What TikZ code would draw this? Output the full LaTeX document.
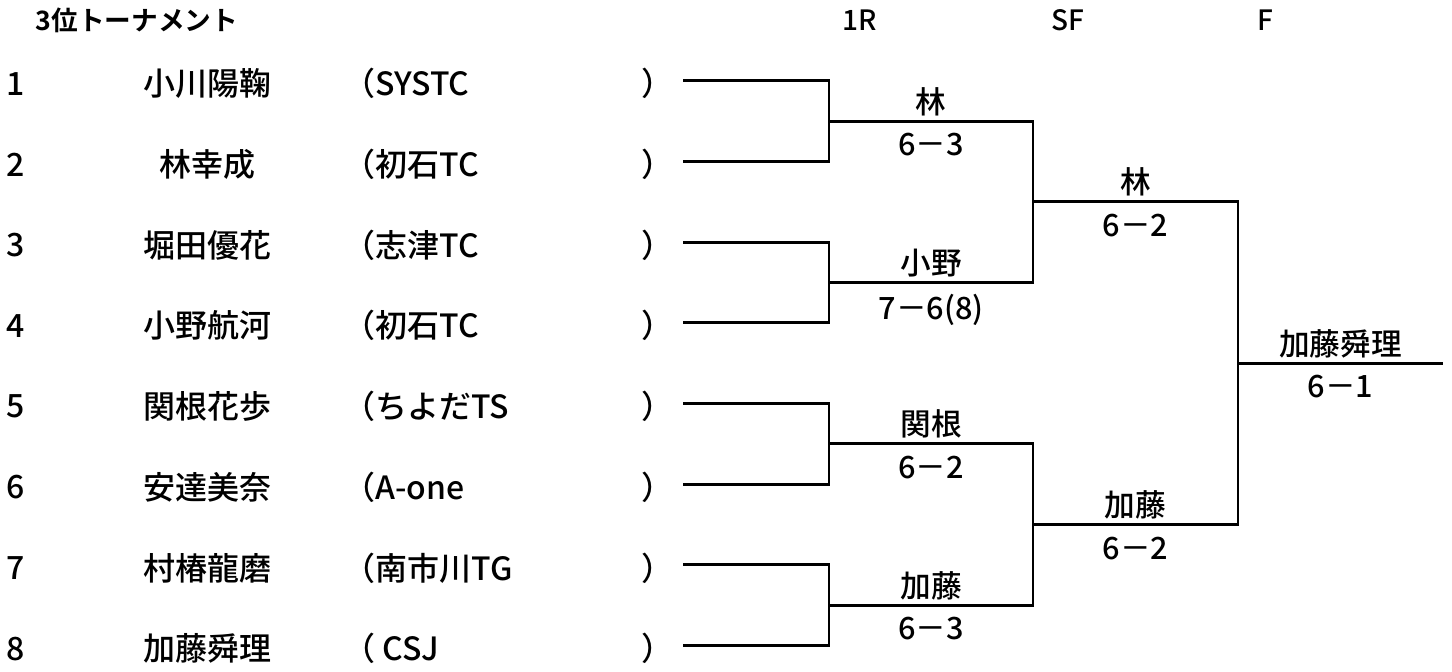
\documentclass[tikz,border=0pt]{standalone}
\usepackage{fontspec}
\setmainfont{Noto Sans CJK JP Medium}[BoldFont={Noto Sans CJK JP Bold}]
\begin{document}
\begin{tikzpicture}[x=0.75pt, y=-0.75pt, line width=2.2pt,
    entry/.style={inner sep=0pt, font=\fontsize{24}{28}\selectfont},
    head/.style={inner sep=0pt, font=\fontsize{21}{25}\selectfont},
    winner/.style={above, inner sep=3pt, font=\fontsize{23}{27}\selectfont},
    score/.style={below=6pt, inner sep=2pt, font=\fontsize{23}{27}\selectfont}]
    \useasboundingbox (0,0) rectangle (1452,671);
    \node[head, font=\fontsize{20}{24}\selectfont\bfseries] (title) at (137,20) {3位トーナメント};
    \node[head] (h1) at (860,20) {1R};
    \node[head] (h2) at (1068,20) {SF};
    \node[head] (h3) at (1265,20) {F};
    \foreach \i/\nm/\club in {1/小川陽鞠/SYSTC, 2/林幸成/初石TC, 3/堀田優花/志津TC, 4/小野航河/初石TC,
        5/関根花歩/ちよだTS, 6/安達美奈/A-one, 7/村椿龍磨/南市川TG, 8/加藤舜理/ CSJ}{
      \node[entry] (n\i) at (16, 80.7*\i+3) {\i};
      \node[entry] (nm\i) at (207, 80.7*\i+3) {\nm};
      \node[entry, anchor=west] (c\i) at (342, 80.7*\i+3) {（\club};
      \node[entry, anchor=west] (r\i) at (640, 80.7*\i+3) {）};
      \coordinate (p\i) at (683, 80.7*\i);
    }
    % junctions
    \foreach \k in {1,...,4}
      \coordinate (m\k) at (829, 161.4*\k-40.35);
    \coordinate (s1) at (1033, 201.75);
    \coordinate (s2) at (1033, 524.55);
    \coordinate (f) at (1238, 363.15);
    \coordinate (champ) at (1443, 363.15);
    % first round
    \foreach \k in {1,...,4}{
      \pgfmathtruncatemacro\a{2*\k-1}
      \pgfmathtruncatemacro\b{2*\k}
      \draw (p\a) -| (m\k) |- (p\b);
    }
    % semi finals
    \draw (m1) -| node[pos=0.25, winner]{林} node[pos=0.25, score]{6－3} (s1)
          |- node[pos=0.75, winner]{小野} node[pos=0.75, score]{7－6(8)} (m2);
    \draw (m3) -| node[pos=0.25, winner]{関根} node[pos=0.25, score]{6－2} (s2)
          |- node[pos=0.75, winner]{加藤} node[pos=0.75, score]{6－3} (m4);
    % final
    \draw (s1) -| node[pos=0.25, winner]{林} node[pos=0.25, score]{6－2} (f)
          |- node[pos=0.75, winner]{加藤} node[pos=0.75, score]{6－2} (s2);
    \draw (f) -- node[winner]{加藤舜理} node[score]{6－1} (champ);
\end{tikzpicture}
\end{document}
